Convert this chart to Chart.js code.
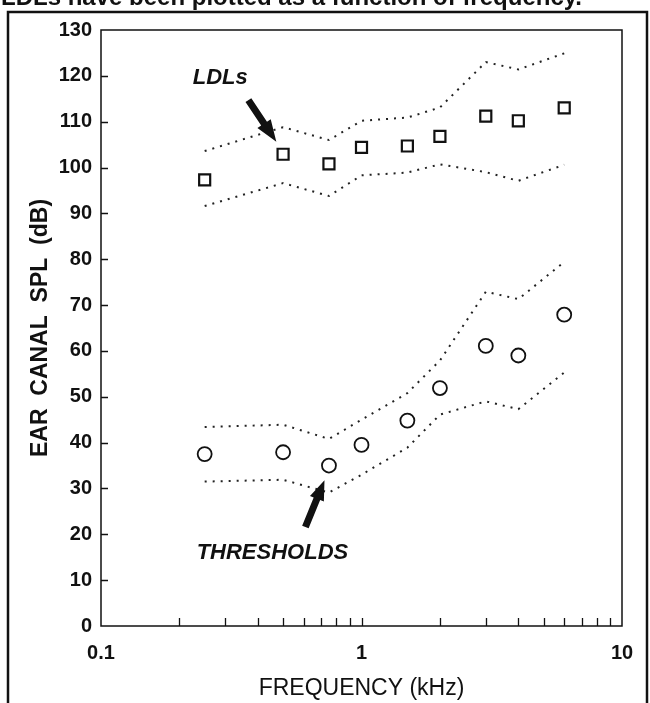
<!DOCTYPE html>
<html>
<head>
<meta charset="utf-8">
<script src="https://cdn.jsdelivr.net/npm/chart.js@4.4.1/dist/chart.umd.min.js"></script>
<style>
    html, body { margin: 0; padding: 0; background: #fff; }
    #wrap { width: 650px; height: 703px; }
</style>
</head>
<body>
<div id="wrap"><canvas id="myChart" width="650" height="703"></canvas></div>
<script>
// frequencies (kHz) and levels (dB SPL)
var freqs = [0.25, 0.5, 0.75, 1, 1.5, 2, 3, 4, 6];
var ldlMean = [97.3, 102.9, 100.8, 104.4, 104.7, 106.8, 111.2, 110.2, 113.0];
var ldlUpper = [103.6, 108.8, 106.0, 110.2, 110.9, 113.1, 123.0, 121.4, 124.9];
var ldlLower = [91.6, 96.6, 93.8, 98.3, 98.9, 100.7, 99.0, 97.1, 100.6];
var thrMean = [37.5, 37.9, 35.0, 39.5, 44.8, 51.9, 61.1, 59.0, 67.9];
var thrUpper = [43.4, 43.9, 40.8, 45.0, 50.8, 57.9, 72.9, 71.3, 79.4];
var thrLower = [31.5, 31.9, 29.1, 33.0, 38.9, 46.1, 49.0, 47.3, 55.3];

var xTickValues = [0.1, 1, 10];
var xTickLabels = ['0.1', '1', '10'];
var xMinorTicks = [0.2, 0.3, 0.4, 0.5, 0.6, 0.7, 0.8, 0.9, 1, 2, 3, 4, 5, 6, 7, 8, 9];
var yTickValues = [10, 20, 30, 40, 50, 60, 70, 80, 90, 100, 110, 120];

var caption = 'LDLs have been plotted as a function of frequency.';

var FONT = "'Liberation Sans', Arial, Helvetica, sans-serif";
var INK = '#111';

function pts(ys) {
    return freqs.map(function (f, i) { return {x: f, y: ys[i]}; });
}

function band(ys) {
    return {
        data: pts(ys),
        showLine: true,
        borderColor: '#222',
        borderWidth: 2,
        borderDash: [2, 6],
        borderCapStyle: 'butt',
        pointRadius: 0,
        order: 2
    };
}

function arrow(ctx, x1, y1, x2, y2, shaft, headLen, headW) {
    var dx = x2 - x1, dy = y2 - y1;
    var len = Math.sqrt(dx * dx + dy * dy);
    var ux = dx / len, uy = dy / len;
    var nx = -uy, ny = ux;
    var bx = x2 - ux * headLen, by = y2 - uy * headLen;
    ctx.beginPath();
    ctx.moveTo(x1 + nx * shaft / 2, y1 + ny * shaft / 2);
    ctx.lineTo(bx + nx * shaft / 2, by + ny * shaft / 2);
    ctx.lineTo(bx + nx * headW / 2, by + ny * headW / 2);
    ctx.lineTo(x2, y2);
    ctx.lineTo(bx - nx * headW / 2, by - ny * headW / 2);
    ctx.lineTo(bx - nx * shaft / 2, by - ny * shaft / 2);
    ctx.lineTo(x1 - nx * shaft / 2, y1 - ny * shaft / 2);
    ctx.closePath();
    ctx.fill();
}

var decorations = {
    id: 'decorations',
    afterDraw: function (chart) {
        var ctx = chart.ctx;
        var a = chart.chartArea;
        var xs = chart.scales.x, ys = chart.scales.y;
        ctx.save();
        ctx.strokeStyle = INK;
        ctx.fillStyle = INK;

        // plot box
        ctx.lineWidth = 1.5;
        ctx.strokeRect(a.left, a.top, a.right - a.left, a.bottom - a.top);

        // inward ticks
        ctx.lineWidth = 1.3;
        ctx.beginPath();
        yTickValues.forEach(function (v) {
            var y = Math.round(ys.getPixelForValue(v)) + 0.5;
            ctx.moveTo(a.left, y);
            ctx.lineTo(a.left + 7, y);
        });
        xMinorTicks.forEach(function (v) {
            var x = Math.round(xs.getPixelForValue(v)) + 0.5;
            ctx.moveTo(x, a.bottom);
            ctx.lineTo(x, a.bottom - 8);
        });
        ctx.stroke();

        // labels and arrows
        ctx.font = 'italic bold 22px ' + FONT;
        ctx.textAlign = 'center';
        ctx.textBaseline = 'middle';
        ctx.fillText('LDLs', xs.getPixelForValue(0.287), ys.getPixelForValue(119.5));
        ctx.fillText('THRESHOLDS', xs.getPixelForValue(0.455), ys.getPixelForValue(15.9));
        arrow(ctx, xs.getPixelForValue(0.368), ys.getPixelForValue(114.7),
            xs.getPixelForValue(0.471), ys.getPixelForValue(105.6), 7, 22, 16);
        arrow(ctx, xs.getPixelForValue(0.609), ys.getPixelForValue(21.6),
            xs.getPixelForValue(0.721), ys.getPixelForValue(31.8), 7, 20, 15);

        // outer figure frame and cropped caption above it
        ctx.lineWidth = 2.5;
        ctx.strokeRect(8, 12, 639, 720);
        ctx.font = 'bold 24px ' + FONT;
        ctx.textAlign = 'left';
        ctx.textBaseline = 'alphabetic';
        ctx.fillText(caption, 1, 5);
        ctx.restore();
    }
};

var canvas = document.getElementById('myChart');
new Chart(canvas, {
    type: 'scatter',
    data: {
        datasets: [
            {
                label: 'LDLs',
                data: pts(ldlMean),
                pointStyle: 'rect',
                pointRadius: 7.8,
                pointBorderWidth: 2.2,
                pointBackgroundColor: '#fff',
                pointBorderColor: INK,
                order: 1
            },
            {
                label: 'Thresholds',
                data: pts(thrMean),
                pointStyle: 'circle',
                pointRadius: 7,
                pointBorderWidth: 1.8,
                pointBackgroundColor: '#fff',
                pointBorderColor: INK,
                order: 1
            },
            band(ldlUpper),
            band(ldlLower),
            band(thrUpper),
            band(thrLower)
        ]
    },
    options: {
        responsive: false,
        animation: false,
        layout: { padding: { left: 0, right: 28, top: 30, bottom: 0 } },
        plugins: {
            legend: { display: false },
            tooltip: { enabled: false }
        },
        scales: {
            x: {
                type: 'logarithmic',
                min: 0.1,
                max: 10,
                afterFit: function (scale) { scale.height = 77; },
                afterBuildTicks: function (scale) {
                    scale.ticks = xTickValues.map(function (v) { return {value: v, major: true}; });
                },
                grid: { display: false, drawTicks: false },
                border: { display: false },
                ticks: {
                    padding: 15,
                    maxRotation: 0,
                    color: INK,
                    font: { family: FONT, size: 20, weight: 'bold' },
                    callback: function (value) {
                        var i = xTickValues.indexOf(value);
                        return i >= 0 ? xTickLabels[i] : '';
                    }
                },
                title: {
                    display: true,
                    text: 'FREQUENCY (kHz)',
                    color: INK,
                    padding: { top: 0, bottom: 1 },
                    font: { family: FONT, size: 23 }
                }
            },
            y: {
                min: 0,
                max: 130,
                afterFit: function (scale) { scale.width = 101; },
                grid: { display: false, drawTicks: false },
                border: { display: false },
                ticks: {
                    stepSize: 10,
                    padding: 9,
                    color: INK,
                    font: { family: FONT, size: 20, weight: 'bold' }
                },
                title: {
                    display: true,
                    text: 'EAR  CANAL  SPL  (dB)',
                    color: INK,
                    padding: { top: 27, bottom: 0 },
                    font: { family: FONT, size: 23, weight: 'bold' }
                }
            }
        }
    },
    plugins: [decorations]
});
</script>
</body>
</html>
